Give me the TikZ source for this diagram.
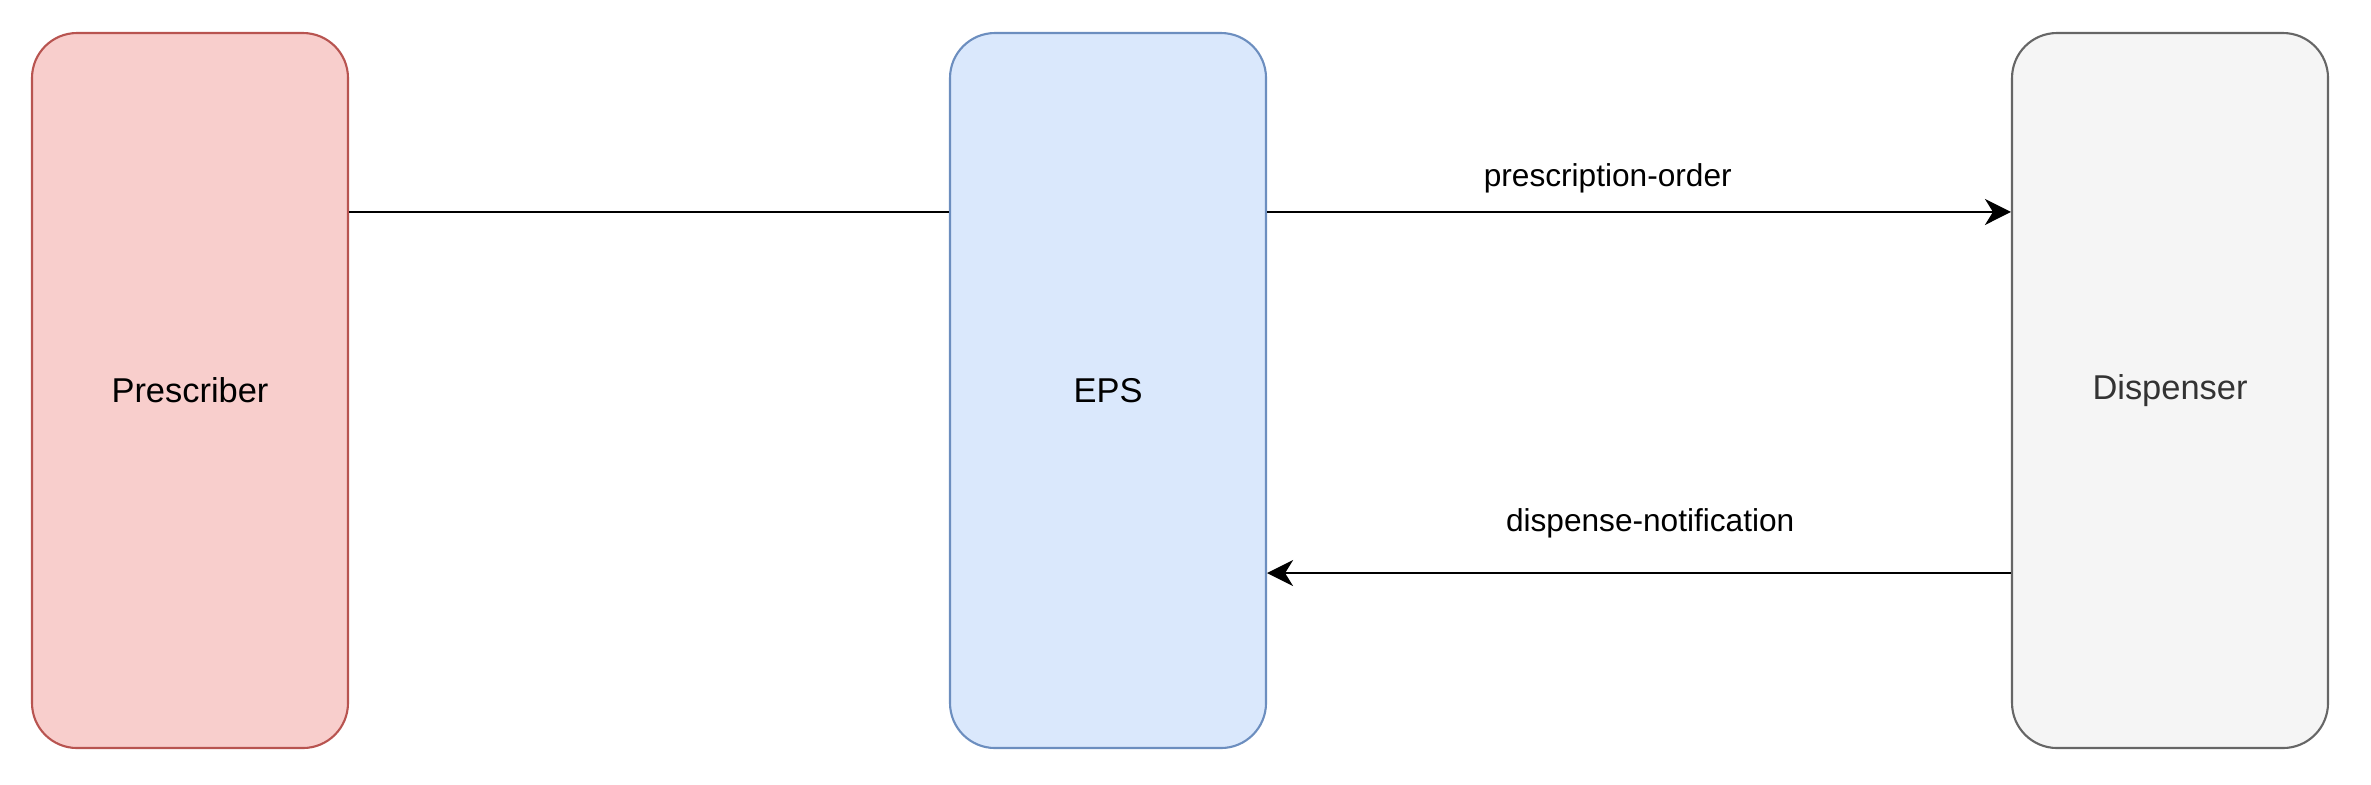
\documentclass[tikz,border=0pt]{standalone}
\usepackage{fontspec}
\setmainfont{Liberation Sans}
\usepackage{xcolor}
\usepackage{tikz}
\usetikzlibrary{positioning,arrows.meta}

\definecolor{presfill}{HTML}{F8CECC}
\definecolor{presline}{HTML}{B85450}
\definecolor{epsfill}{HTML}{DAE8FC}
\definecolor{epsline}{HTML}{6C8EBF}
\definecolor{dispfill}{HTML}{F5F5F5}
\definecolor{displine}{HTML}{666666}
\definecolor{disptext}{HTML}{333333}

\begin{document}
\begin{tikzpicture}[
  font=\fontsize{9}{11}\selectfont,
  party/.style={draw, line width=0.6pt, rounded corners=4.5mm, align=center,
    minimum width=31.6mm, minimum height=71.5mm, inner sep=0pt,
    font=\fontsize{9.8}{12}\selectfont},
  flow/.style={-{Stealth[length=2.6mm, width=2.6mm, inset=0.8mm]}, line width=0.7pt},
  plain/.style={line width=0.7pt},
  msg/.style={inner sep=0pt}
]
\useasboundingbox (0,0) rectangle (23.71,-7.84);
\node[party, fill=presfill, draw=presline] (prescriber) at (1.90,-3.905) {Prescriber};
\node[party, fill=epsfill, draw=epsline] (eps) at (11.08,-3.905) {EPS};
\node[party, fill=dispfill, draw=displine, text=disptext] (dispenser) at (21.70,-3.905) {Dispenser};

\draw[plain] ([yshift=-18mm]prescriber.north east) -- ([yshift=-18mm]eps.north west);
\draw[flow] ([yshift=-18mm]eps.north east) -- ([yshift=-18mm]dispenser.north west)
  node[msg, pos=0.458, yshift=3.4mm] (order) {prescription-order};
\draw[flow] ([yshift=17.6mm]dispenser.south west) -- ([yshift=17.6mm]eps.south east)
  node[msg, pos=0.485, yshift=5.0mm] (notify) {dispense-notification};
\end{tikzpicture}
\end{document}
